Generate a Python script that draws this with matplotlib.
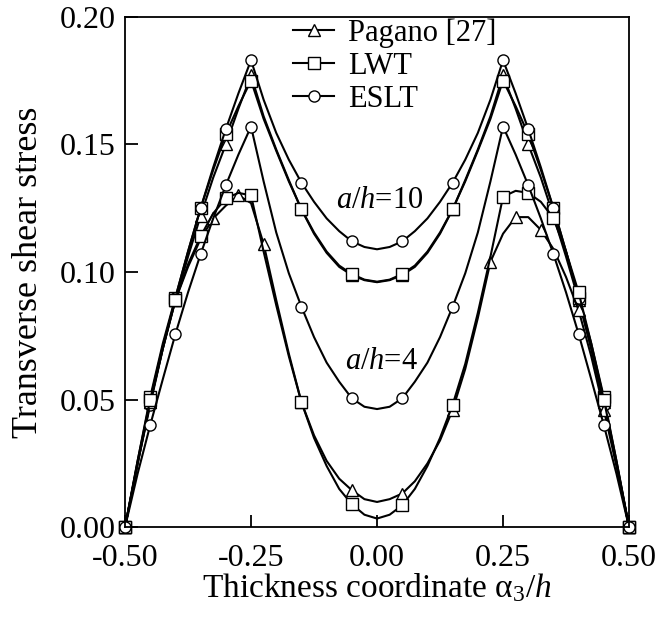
import numpy as np
import matplotlib
matplotlib.use("Agg")
import matplotlib.pyplot as plt
from matplotlib.lines import Line2D

plt.rcParams['font.family'] = 'Liberation Serif'
plt.rcParams['mathtext.fontset'] = 'custom'
plt.rcParams['mathtext.rm'] = 'Liberation Serif'
plt.rcParams['mathtext.it'] = 'Liberation Serif:italic'
plt.rcParams['axes.unicode_minus'] = False

# thickness coordinate where the curves were read
z = np.linspace(-0.5, 0.5, 41)

# a/h = 10, left half (-0.5 .. 0), curves are symmetric
eslt10_half = [0, 0.025, 0.048, 0.070, 0.090, 0.108, 0.125, 0.141, 0.156, 0.170, 0.183,
               0.1675, 0.1545, 0.1440, 0.135, 0.1275, 0.121, 0.116, 0.112, 0.1098, 0.1089]
lwt10_half = [0, 0.026, 0.051, 0.072, 0.090, 0.108, 0.125, 0.140, 0.154, 0.165, 0.175,
              0.160, 0.1475, 0.1355, 0.1246, 0.1155, 0.108, 0.1025, 0.0992, 0.097, 0.0962]
pag10_half = [0, 0.025, 0.049, 0.070, 0.089, 0.106, 0.122, 0.137, 0.150, 0.164, 0.177,
              0.161, 0.148, 0.136, 0.1245, 0.115, 0.1075, 0.102, 0.0988, 0.0968, 0.096]
# a/h = 4
eslt4_half = [0, 0.021, 0.040, 0.058, 0.0757, 0.092, 0.107, 0.121, 0.134, 0.146, 0.157,
              0.1355, 0.1155, 0.0995, 0.0864, 0.0745, 0.0645, 0.057, 0.0505, 0.0472, 0.0463]
lwt4 = [0, 0.026, 0.050, 0.071, 0.089, 0.103, 0.114, 0.123, 0.1288, 0.131, 0.130,
        0.108, 0.087, 0.067, 0.049, 0.035, 0.024, 0.015, 0.009, 0.0049, 0.0034,
        0.0049, 0.0086, 0.015, 0.024, 0.035, 0.048, 0.064, 0.084, 0.106, 0.1295,
        0.1318, 0.131, 0.1275, 0.121, 0.108, 0.092, 0.072, 0.050, 0.026, 0]
pag4 = [0, 0.025, 0.049, 0.070, 0.089, 0.102, 0.113, 0.121, 0.126, 0.130, 0.127,
        0.111, 0.089, 0.068, 0.049, 0.036, 0.026, 0.019, 0.0145, 0.011, 0.0099,
        0.011, 0.0132, 0.018, 0.025, 0.034, 0.046, 0.062, 0.082, 0.104, 0.115,
        0.1215, 0.1215, 0.1165, 0.109, 0.098, 0.085, 0.067, 0.046, 0.024, 0]

def mirror(half):
    return list(half) + list(half[-2::-1])

eslt10 = mirror(eslt10_half)
lwt10 = mirror(lwt10_half)
pag10 = mirror(pag10_half)
eslt4 = mirror(eslt4_half)

marks_std = [-0.5, -0.45, -0.4, -0.35, -0.3, -0.25, -0.15, -0.05,
             0.05, 0.15, 0.25, 0.3, 0.35, 0.4, 0.45, 0.5]
marks_pag4 = [-0.5, -0.45, -0.4, -0.325, -0.275, -0.225, -0.15, -0.05,
              0.05, 0.15, 0.225, 0.275, 0.325, 0.4, 0.45, 0.5]

def idx(marks):
    return [int(np.argmin(np.abs(z - m))) for m in marks]

fig = plt.figure(figsize=(6.58, 6.21), dpi=100)
ax = fig.add_axes([0.190, 0.151, 0.766, 0.822])

lw = 1.5
style = dict(color='black', lw=lw, mfc='white', mec='black', mew=1.0, clip_on=False)
ax.plot(z, pag10, marker='^', ms=9, markevery=idx(marks_std), **style)
ax.plot(z, lwt10, marker='s', ms=8, markevery=idx(marks_std), **style)
ax.plot(z, eslt10, marker='o', ms=8, markevery=idx(marks_std), **style)
ax.plot(z, pag4, marker='^', ms=9, markevery=idx(marks_pag4), **style)
ax.plot(z, lwt4, marker='s', ms=8, markevery=idx(marks_std), **style)
ax.plot(z, eslt4, marker='o', ms=8, markevery=idx(marks_std), **style)

ax.text(0.006, 0.128, r'$a/h$=10', fontsize=22, ha='center', va='center')
ax.text(0.009, 0.0648, r'$a/h$=4', fontsize=22, ha='center', va='center')

handles = [Line2D([], [], color='black', lw=lw, marker='^', ms=9, mfc='white', mec='black'),
           Line2D([], [], color='black', lw=lw, marker='s', ms=8, mfc='white', mec='black'),
           Line2D([], [], color='black', lw=lw, marker='o', ms=8, mfc='white', mec='black')]
ax.legend(handles, ['Pagano [27]', 'LWT', 'ESLT'], loc='upper left',
          bbox_to_anchor=(0.33, 1.0), frameon=False, fontsize=22,
          handlelength=1.35, handletextpad=0.45, labelspacing=0.13,
          borderpad=0.05, borderaxespad=0)

ax.set_xlim(-0.5, 0.5)
ax.set_ylim(0, 0.2)
ax.set_xticks([-0.5, -0.25, 0, 0.25, 0.5])
ax.set_yticks([0, 0.05, 0.1, 0.15, 0.2])
ax.xaxis.set_major_formatter(matplotlib.ticker.FormatStrFormatter('%.2f'))
ax.yaxis.set_major_formatter(matplotlib.ticker.FormatStrFormatter('%.2f'))
ax.tick_params(direction='in', length=9, width=1.3, labelsize=23,
               top=False, right=False)
ax.tick_params(axis='x', pad=12)
ax.tick_params(axis='y', pad=7)
for s in ax.spines.values():
    s.set_linewidth(1.3)

ax.set_xlabel(r'Thickness coordinate $\mathrm{\alpha}_3/h$', fontsize=24, labelpad=-1)
ax.set_ylabel('Transverse shear stress', fontsize=26, labelpad=10)

fig.savefig('out.png', dpi=100)
